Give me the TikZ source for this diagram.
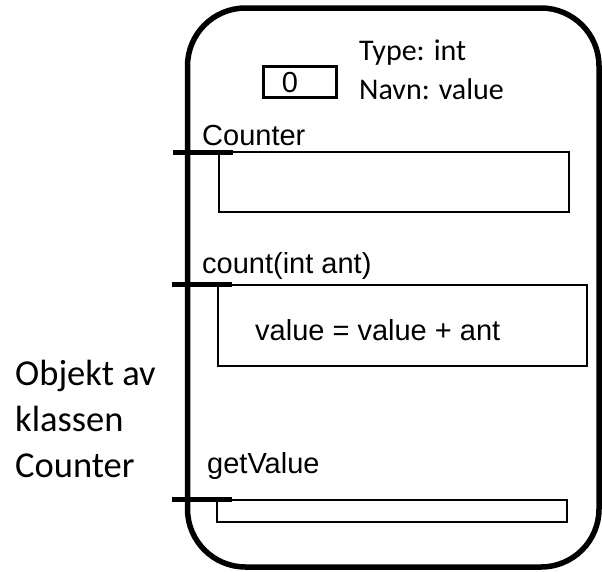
\documentclass[tikz,border=0pt]{standalone}
\usepackage{fontspec}
\setmainfont{Liberation Sans}
\newfontfamily\calibri{Carlito}
\begin{document}
\begin{tikzpicture}[x=1pt,y=-1pt,
  lbl/.style={anchor=base west,inner sep=0pt,font=\fontsize{29}{30}\selectfont},
  note/.style={anchor=base west,inner sep=0pt,font=\calibri\fontsize{30}{34}\selectfont},
  side/.style={anchor=base west,inner sep=0pt,font=\calibri\fontsize{36.5}{44}\selectfont},
  frame/.style={line width=5.5pt,rounded corners=58pt},
  tick/.style={line width=5pt},
  slot/.style={line width=1.9pt},
  cell/.style={line width=3.5pt}]
\useasboundingbox (0,0) rectangle (602,571);

% object outline
\draw[frame] (187.5,8) rectangle (599,567);

% field: the stored value
\draw[cell] (263.5,66.5) rectangle (336.5,97.5);
\node[inner sep=0pt,font=\fontsize{29}{30}\selectfont] (val) at (290,83) {0};
\node[note] (type) at (359,60) {Type: int};
\node[note] (name) at (359,99) {Navn: value};

% constructor
\node[lbl] (ctor) at (202,145) {Counter};
\draw[slot] (219,152) rectangle (569,212);
\draw[tick] (173,152) -- (233,152);

% count method
\node[lbl] (cnt) at (202,273) {count(int ant)};
\draw[slot] (218,285) rectangle (587,366);
\draw[tick] (172,284) -- (232,284);
\node[lbl] (body) at (255,340) {value = value + ant};

% getValue method
\node[lbl] (get) at (207,473) {getValue};
\draw[slot] (217,500) rectangle (567,522);
\draw[tick] (172,499) -- (232,499);

% caption on the left
\node[side] (c1) at (15,385) {Objekt av};
\node[side] (c2) at (15,431) {klassen};
\node[side] (c3) at (15,477) {Counter};
\end{tikzpicture}
\end{document}
